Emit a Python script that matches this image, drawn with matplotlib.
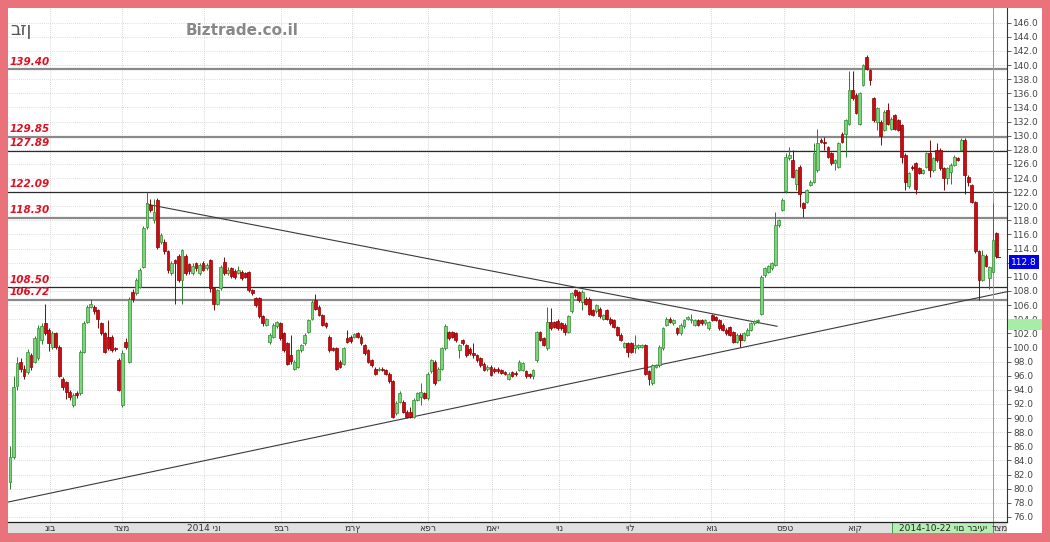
import numpy as np
import matplotlib.pyplot as plt
from matplotlib.patches import Rectangle
from matplotlib.transforms import blended_transform_factory

# OHLC, one value per trading day
opens = [81.0, 84.5, 94.5, 98.0, 97.0, 96.5, 98.9, 98.0, 98.5, 101.0,
         103.4, 102.5, 100.1, 102.0, 100.1, 95.6, 95.1, 93.7, 91.8, 93.6,
         93.5, 99.4, 103.6, 105.8, 105.8, 105.3, 103.4, 102.0, 101.5, 101.5,
         99.9, 98.2, 91.8, 100.8, 98.0, 107.9, 107.7, 108.6, 111.4, 117.1,
         120.2, 118.0, 120.9, 115.0, 115.0, 113.6, 110.5, 112.4, 112.9, 109.6,
         112.9, 111.8, 110.5, 111.9, 110.5, 111.9, 111.2, 112.4, 108.4, 106.2,
         108.4, 112.1, 110.5, 111.2, 110.9, 110.6, 110.7, 110.5, 110.7, 108.1,
         107.0, 107.0, 104.4, 103.2, 100.8, 101.5, 103.0, 103.4, 102.0, 100.6,
         99.0, 97.0, 97.3, 99.6, 100.6, 102.2, 104.1, 106.7, 105.8, 104.6,
         103.4, 101.5, 99.9, 99.9, 98.0, 97.7, 101.3, 101.5, 101.5, 102.0,
         101.5, 100.3, 99.6, 98.2, 97.0, 96.8, 97.0, 96.8, 96.3, 95.2,
         90.7, 92.3, 92.3, 90.9, 90.9, 90.2, 92.6, 93.0, 93.5, 92.8,
         96.6, 98.0, 95.4, 97.0, 99.9, 102.2, 102.2, 102.0, 99.6, 101.0,
         100.3, 99.8, 99.2, 98.9, 98.5, 97.7, 96.9, 97.3, 97.0, 97.0,
         96.8, 96.5, 95.6, 96.5, 96.4, 96.8, 96.8, 96.6, 96.2, 95.9,
         98.2, 102.2, 101.3, 99.9, 103.6, 103.6, 103.8, 103.4, 103.2, 102.2,
         105.1, 108.1, 107.8, 106.5, 106.9, 106.9, 105.3, 105.1, 105.5, 104.1,
         105.3, 104.1, 103.9, 102.9, 101.8, 100.1, 100.6, 100.6, 99.9, 100.0,
         100.1, 100.3, 96.6, 94.9, 97.3, 97.5, 99.9, 103.2, 104.1, 103.4,
         102.7, 102.0, 103.0, 104.1, 103.9, 103.2, 103.9, 103.9, 103.4, 102.7,
         104.6, 104.3, 103.9, 103.2, 102.5, 102.9, 102.2, 100.8, 101.8, 101.1,
         101.8, 102.5, 103.4, 103.7, 104.8, 110.2, 110.7, 111.2, 111.7, 117.3,
         119.5, 122.1, 126.8, 126.5, 123.2, 125.6, 120.4, 120.6, 123.0, 123.5,
         125.1, 129.4, 129.1, 128.4, 127.5, 126.1, 125.6, 130.3, 130.3, 131.7,
         136.5, 135.8, 131.7, 137.2, 141.2, 139.3, 135.3, 132.0, 132.0, 130.8,
         133.6, 131.0, 132.9, 132.2, 131.5, 127.3, 122.8, 125.6, 126.1, 125.4,
         124.7, 125.6, 127.5, 125.1, 128.0, 128.0, 125.4, 124.0, 124.9, 125.9,
         126.8, 128.0, 129.4, 124.2, 123.0, 120.6, 113.6, 109.6, 113.0, 109.8,
         110.7, 116.2]
closes = [84.5, 94.4, 97.8, 97.0, 96.0, 99.4, 97.2, 101.3, 102.8, 103.0,
          102.0, 100.6, 102.0, 100.1, 96.0, 94.4, 93.7, 93.0, 93.3, 93.2,
          99.4, 103.4, 105.8, 106.2, 105.1, 104.1, 102.0, 99.4, 99.9, 99.6,
          99.8, 94.0, 99.2, 100.1, 106.9, 106.9, 109.5, 111.0, 116.9, 120.4,
          119.5, 119.2, 114.3, 115.9, 113.6, 111.0, 111.9, 111.9, 109.6, 113.8,
          110.5, 110.8, 111.6, 111.2, 111.7, 111.0, 111.7, 108.4, 106.2, 108.1,
          111.4, 110.5, 111.0, 110.1, 110.0, 111.0, 109.8, 110.0, 108.1, 107.7,
          106.0, 104.4, 103.4, 104.0, 101.8, 103.2, 103.6, 101.3, 99.6, 97.7,
          98.1, 98.0, 99.6, 100.3, 101.8, 103.9, 106.5, 105.5, 104.6, 103.2,
          103.0, 99.6, 99.7, 97.0, 97.3, 99.9, 100.8, 100.9, 101.9, 101.5,
          100.6, 99.2, 98.0, 97.5, 96.3, 97.0, 96.8, 96.3, 95.2, 90.2,
          92.1, 93.5, 90.9, 90.2, 90.2, 92.6, 93.5, 93.7, 92.9, 96.3,
          98.2, 94.9, 97.0, 99.9, 103.0, 101.3, 101.5, 101.0, 100.3, 100.6,
          98.9, 99.2, 98.9, 98.2, 97.5, 96.8, 97.3, 96.1, 96.6, 96.6,
          96.4, 96.3, 96.3, 96.0, 96.2, 98.0, 97.8, 95.9, 95.9, 96.8,
          102.2, 101.1, 100.4, 103.6, 102.7, 102.9, 102.7, 102.7, 102.2, 104.4,
          107.7, 107.4, 106.7, 107.9, 106.2, 104.8, 104.6, 106.0, 104.4, 104.6,
          104.1, 103.4, 102.9, 101.8, 101.1, 100.6, 99.4, 99.4, 100.4, 100.3,
          100.3, 96.3, 95.6, 97.5, 97.5, 100.1, 102.7, 104.1, 103.6, 103.9,
          102.0, 103.2, 103.9, 104.3, 104.1, 103.9, 103.2, 103.4, 103.9, 103.6,
          103.9, 103.9, 102.7, 102.5, 102.0, 101.8, 100.8, 101.8, 101.1, 102.0,
          102.5, 103.4, 103.7, 103.9, 110.0, 111.2, 111.5, 111.9, 117.3, 118.0,
          120.9, 127.0, 127.2, 124.2, 125.1, 121.8, 119.7, 122.3, 123.5, 127.5,
          128.9, 129.1, 128.9, 127.0, 126.1, 126.5, 128.9, 129.1, 132.2, 136.5,
          135.3, 133.2, 136.0, 140.0, 139.5, 137.9, 132.2, 133.9, 129.9, 133.4,
          131.7, 132.4, 131.0, 130.8, 127.0, 123.5, 124.7, 125.4, 122.5, 124.7,
          125.1, 127.5, 125.1, 126.8, 126.5, 125.4, 124.0, 125.4, 125.9, 127.0,
          126.6, 129.4, 124.4, 123.5, 120.6, 113.6, 109.6, 113.1, 111.6, 111.4,
          115.2, 112.9]
highs = [86.0, 95.9, 98.7, 98.5, 97.5, 99.8, 99.2, 101.6, 103.2, 103.5,
         106.2, 102.8, 102.3, 102.2, 100.3, 95.8, 95.3, 94.0, 93.6, 93.8,
         99.7, 103.7, 106.0, 106.8, 106.0, 105.5, 103.6, 102.2, 103.9, 101.7,
         100.1, 98.5, 99.6, 101.3, 107.2, 108.3, 109.8, 111.3, 117.2, 122.0,
         121.0, 121.0, 121.1, 116.2, 115.3, 113.8, 112.2, 112.6, 113.2, 114.0,
         113.2, 112.0, 111.9, 112.1, 112.0, 112.2, 111.9, 112.6, 108.6, 108.3,
         111.7, 112.8, 111.4, 111.4, 111.1, 111.5, 111.0, 110.7, 110.9, 108.3,
         107.2, 107.2, 104.6, 104.2, 102.0, 103.4, 103.8, 103.6, 102.2, 100.8,
         101.8, 98.2, 99.8, 100.5, 102.0, 104.1, 106.7, 107.6, 106.0, 104.8,
         103.6, 101.7, 100.1, 100.1, 98.2, 100.1, 102.5, 101.7, 102.1, 102.2,
         101.7, 100.5, 99.8, 98.4, 97.2, 97.2, 97.2, 97.0, 96.5, 95.4,
         92.4, 93.8, 92.5, 91.1, 91.5, 92.8, 93.7, 95.0, 93.7, 96.5,
         98.4, 98.2, 97.2, 100.1, 103.3, 102.4, 102.4, 102.2, 100.5, 101.2,
         100.5, 100.0, 100.6, 99.1, 98.7, 97.9, 97.5, 97.5, 97.2, 97.2,
         97.0, 96.7, 96.5, 96.7, 96.6, 98.2, 98.0, 96.8, 96.4, 97.0,
         102.4, 102.4, 101.5, 105.8, 105.6, 103.8, 104.0, 103.6, 103.4, 104.6,
         107.9, 108.3, 108.0, 108.1, 107.1, 107.1, 105.5, 106.2, 105.7, 104.8,
         105.5, 104.3, 104.1, 103.1, 102.0, 100.8, 100.8, 100.8, 101.8, 100.5,
         100.5, 100.5, 96.8, 97.7, 97.7, 100.3, 102.9, 104.3, 104.3, 104.1,
         102.9, 103.4, 104.1, 104.5, 104.8, 104.1, 104.1, 104.1, 104.1, 103.8,
         104.8, 104.5, 104.1, 103.4, 102.7, 103.1, 102.4, 102.0, 102.0, 102.2,
         102.7, 103.6, 103.9, 104.1, 110.2, 111.4, 111.7, 112.1, 119.2, 118.2,
         121.1, 127.5, 128.4, 128.0, 125.3, 125.8, 120.6, 122.5, 123.7, 128.9,
         131.0, 129.6, 129.8, 128.6, 127.7, 126.7, 129.1, 130.5, 132.4, 139.2,
         139.2, 136.0, 136.2, 140.2, 141.4, 139.5, 135.5, 134.1, 132.2, 133.6,
         134.6, 132.6, 133.1, 132.4, 131.7, 127.5, 124.9, 125.8, 126.3, 125.6,
         125.3, 127.7, 129.4, 127.0, 128.9, 128.2, 125.6, 125.6, 126.1, 127.2,
         127.0, 129.6, 129.6, 124.4, 123.2, 120.8, 113.8, 113.8, 113.2, 111.6,
         120.4, 116.4]
lows = [80.0, 84.2, 94.0, 96.5, 95.5, 96.2, 96.8, 97.8, 98.2, 100.5,
        101.8, 99.5, 99.8, 99.8, 95.8, 94.0, 92.7, 92.5, 91.5, 92.8,
        93.2, 99.2, 103.4, 105.6, 104.8, 102.7, 101.8, 99.2, 99.6, 99.3,
        99.5, 93.8, 91.5, 99.8, 97.8, 106.4, 107.5, 108.4, 111.2, 116.8,
        119.2, 117.6, 114.0, 114.7, 113.3, 110.5, 110.2, 106.2, 109.3, 106.2,
        110.2, 110.4, 110.2, 110.9, 110.3, 110.8, 111.0, 107.8, 105.3, 106.0,
        108.2, 110.2, 110.2, 109.8, 109.7, 110.4, 109.6, 109.8, 107.9, 107.4,
        105.8, 104.2, 103.1, 103.0, 100.5, 101.3, 102.8, 101.1, 99.4, 97.5,
        97.7, 96.8, 97.1, 99.4, 100.4, 102.0, 103.9, 105.3, 104.4, 103.0,
        102.8, 99.4, 99.5, 96.8, 97.1, 97.5, 100.6, 100.7, 101.3, 101.3,
        100.4, 99.0, 97.8, 97.3, 96.1, 96.6, 96.6, 96.1, 95.0, 90.0,
        90.5, 92.1, 90.7, 90.0, 90.0, 90.0, 92.4, 91.9, 92.7, 92.6,
        96.4, 94.7, 95.2, 96.8, 99.7, 101.1, 101.3, 100.8, 98.5, 100.4,
        98.7, 99.0, 98.5, 98.0, 97.3, 96.6, 96.7, 95.9, 96.4, 96.4,
        96.2, 96.1, 95.4, 95.8, 96.0, 96.6, 96.6, 95.7, 95.7, 95.6,
        98.0, 100.9, 100.2, 99.7, 102.5, 102.7, 102.5, 102.5, 101.8, 102.0,
        104.9, 107.2, 106.5, 105.3, 106.0, 104.6, 104.4, 104.9, 104.2, 103.9,
        103.9, 103.2, 102.7, 101.6, 100.9, 99.9, 98.7, 99.2, 99.2, 99.8,
        99.9, 96.1, 94.7, 94.7, 97.1, 97.3, 99.7, 103.0, 103.4, 103.2,
        101.8, 101.8, 102.8, 103.9, 103.4, 103.0, 103.0, 103.2, 103.2, 102.5,
        103.7, 103.7, 102.5, 102.3, 101.8, 101.6, 100.6, 100.6, 100.0, 100.9,
        101.6, 102.3, 103.2, 103.5, 104.6, 110.0, 110.5, 111.0, 111.5, 117.1,
        119.3, 121.9, 126.5, 124.0, 122.3, 119.9, 118.5, 120.4, 122.8, 123.3,
        124.9, 128.9, 128.0, 126.8, 125.9, 125.1, 125.4, 128.9, 127.0, 131.5,
        135.1, 133.0, 131.5, 137.0, 139.3, 137.2, 132.0, 130.8, 128.7, 130.6,
        131.5, 130.8, 130.8, 130.6, 126.1, 122.3, 122.6, 125.2, 121.8, 124.5,
        124.5, 125.4, 124.2, 124.9, 126.3, 125.2, 122.3, 123.2, 123.2, 125.7,
        126.4, 127.8, 121.8, 122.8, 120.4, 113.4, 106.7, 109.4, 111.4, 108.3,
        110.5, 112.7]

# support / resistance levels and their style (thick grey or thin dark)
levels = [139.40, 129.85, 127.89, 122.09, 118.30, 108.50, 106.72]
level_thick = [True, True, False, False, True, False, True]

# trend lines (candle index, price)
down_x, down_y = [38.9, 218.5], [120.3, 103.0]
up_x, up_y = [-0.6, 284.0], [78.1, 107.9]

# month labels, written in the glyph order the chart shows them
months = ['נוב', 'דצמ', '2014 ינו', 'פבר', 'מרץ', 'אפר', 'מאי', 'יונ', 'יול', 'אוג', 'ספט', 'אוק']
month_pos = [11.5, 31.8, 55.3, 77.3, 97.5, 119.0, 137.4, 156.5, 176.7, 199.8, 220.6, 240.5]

last_price = 112.8
cross_idx = 280
cross_price = (102.5, 104.0)

HEB = ['DejaVu Sans', 'Liberation Sans']
W, H = 1050, 542


def fx(px):
    return px / W


def fy(py):
    return 1 - py / H


fig = plt.figure(figsize=(W / 100, H / 100), dpi=100, facecolor='#EA737B')
fig.patches.append(Rectangle((fx(8), fy(533)), fx(1042) - fx(8), fy(8) - fy(533),
                             transform=fig.transFigure, facecolor='white', edgecolor='none', zorder=-5))

ax = fig.add_axes([fx(8), fy(522), fx(1007) - fx(8), fy(8) - fy(522)])
band = fig.add_axes([fx(8), fy(533), fx(1007) - fx(8), fy(522) - fy(533)])

n = len(closes)
x = np.arange(n)
o = np.array(opens)
c = np.array(closes)
hi = np.array(highs)
lo = np.array(lows)
up = c >= o

xmin, xmax = -0.57, 284.0
ax.set_xlim(xmin, xmax)
ax.set_ylim(75.28, 148.08)

# grid
for yv in np.arange(76, 148, 2):
    ax.axhline(yv, color='#CFCFCF', lw=0.6, ls=(0, (1, 1.5)), zorder=0)
for mp in month_pos:
    ax.axvline(mp, color='#C8C8C8', lw=0.6, ls=(0, (1, 1.5)), zorder=0)

# levels
for lv, thick in zip(levels, level_thick):
    if thick:
        ax.axhline(lv, color='#8A8A8A', lw=1.6, zorder=1)
    else:
        ax.axhline(lv, color='#2A2A2A', lw=0.9, zorder=1)
    ax.annotate(f'{lv:.2f}', xy=(0.002, lv), xycoords=('axes fraction', 'data'),
                xytext=(0, 2), textcoords='offset points', ha='left', va='bottom',
                color='#DD1122', fontsize=7.5, fontweight='bold', fontstyle='italic')

# trend lines
ax.plot(down_x, down_y, color='#3A3A3A', lw=0.8, zorder=2)
ax.plot(up_x, up_y, color='#3A3A3A', lw=0.8, zorder=2)

# candles
ax.vlines(x[up], lo[up], hi[up], color='#2E7D2E', lw=0.7, zorder=3)
ax.vlines(x[~up], lo[~up], hi[~up], color='#7A0A0A', lw=0.7, zorder=3)
body_lo = np.minimum(o, c)
body_h = np.maximum(np.abs(c - o), 0.15)
ax.bar(x[up], body_h[up], bottom=body_lo[up], width=0.8,
       color='#7CD47C', edgecolor='#2E8B2E', lw=0.5, zorder=4)
ax.bar(x[~up], body_h[~up], bottom=body_lo[~up], width=0.8,
       color='#CC0A14', edgecolor='#8B0000', lw=0.5, zorder=4)
ax.plot([n - 1, n - 0.1], [last_price, last_price], color='#333333', lw=0.7, zorder=4)

# crosshair
ax.axvline(cross_idx, color='#9A9A9A', lw=0.7, zorder=2)

# right axis
ax.yaxis.tick_right()
ax.set_yticks(np.arange(76, 147, 2))
ax.set_yticklabels([f'{v:.1f}' for v in np.arange(76, 147, 2)])
ax.tick_params(axis='y', direction='out', length=3, width=0.6, pad=1.5,
               labelsize=6.5, colors='#444444')
ax.set_xticks([])
for s in ['top', 'left', 'bottom']:
    ax.spines[s].set_visible(False)
ax.spines['right'].set_color('#333333')
ax.spines['right'].set_linewidth(0.8)

tr = blended_transform_factory(ax.transAxes, ax.transData)
ax.add_patch(Rectangle((1.001, cross_price[0]), 0.034, cross_price[1] - cross_price[0],
                       transform=tr, facecolor='#A6EDA6', edgecolor='none',
                       clip_on=False, zorder=10))
ax.annotate(f'{last_price:.1f}', xy=(1.0, 112.1), xycoords=('axes fraction', 'data'),
            xytext=(3, 0), textcoords='offset points', ha='left', va='center',
            color='white', fontsize=6.5,
            bbox=dict(boxstyle='square,pad=0.25', fc='#0000EE', ec='none'),
            annotation_clip=False, zorder=11)

# titles
ax.text(0.002, 0.957, 'בזן', transform=ax.transAxes, fontsize=13,
        color='#555555', va='center', ha='left', family=HEB)
ax.text(0.178, 0.957, 'Biztrade.co.il', transform=ax.transAxes, fontsize=11,
        fontweight='bold', color='#888888', va='center', ha='left')
ax.text(0.012, 1.004, 'M:120.00', transform=ax.transAxes, fontsize=6,
        color='#3344CC', va='center', ha='left', clip_on=True)

# date band
band.set_xlim(xmin, xmax)
band.set_ylim(0, 1)
band.set_facecolor('#E0E0E0')
band.set_xticks([])
band.set_yticks([])
for s in ['left', 'right', 'bottom']:
    band.spines[s].set_visible(False)
band.spines['top'].set_color('#222222')
band.spines['top'].set_linewidth(0.9)
for m, mp in zip(months, month_pos):
    band.text(mp, 0.45, m, ha='center', va='center', fontsize=6.5,
              color='#333333', family=HEB)
band.add_patch(Rectangle((251.3, 0.02), cross_idx - 251.3, 0.96,
                         facecolor='#B4F0B4', edgecolor='#2E8B2E', lw=0.6))
band.text((251.3 + cross_idx) / 2, 0.45, '2014-10-22 יום רביעי',
          ha='center', va='center', fontsize=6.5, color='#222222', family=HEB)
band.text(282.0, 0.45, 'דצמ', ha='center', va='center', fontsize=6.5,
          color='#333333', family=HEB)

fig.savefig('out.png', dpi=100, facecolor=fig.get_facecolor())
